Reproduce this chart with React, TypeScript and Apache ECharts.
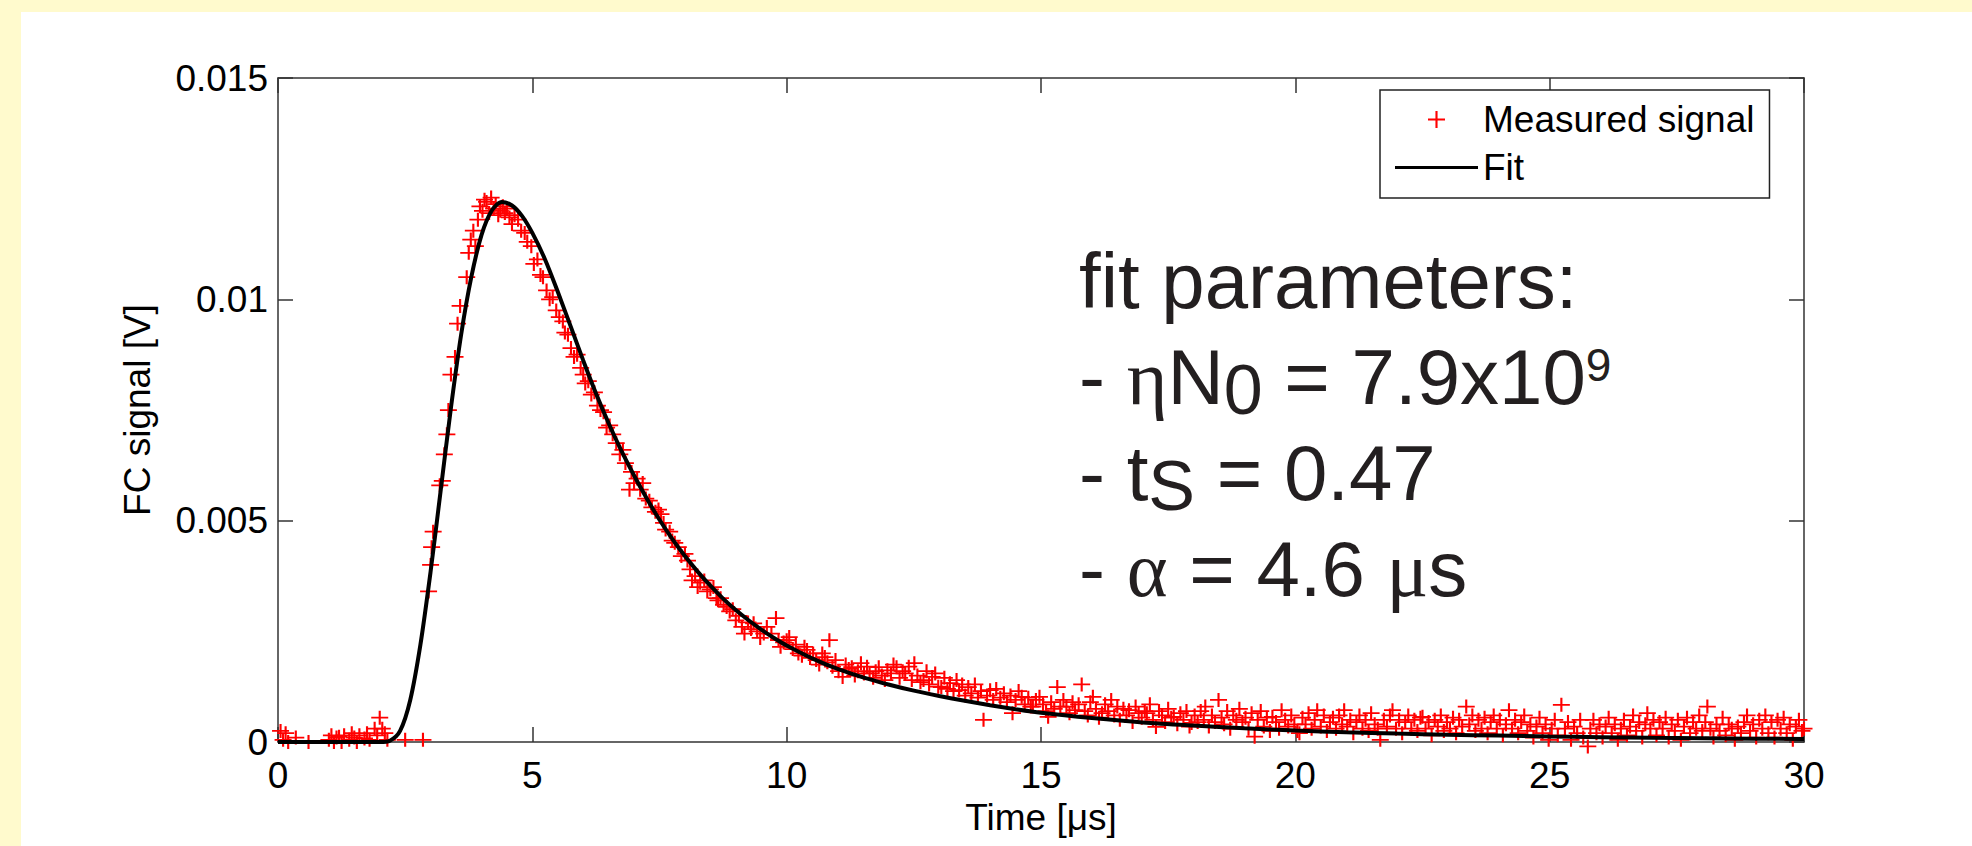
import React, { useEffect, useRef } from "react";
import * as echarts from "echarts";

const FONT = '"Liberation Sans", Arial, Helvetica, sans-serif';
const SERIF = '"Liberation Serif", "DejaVu Serif", serif';

const X_TICKS = [0, 5, 10, 15, 20, 25, 30];
const Y_TICKS = [0, 0.005, 0.01, 0.015];
const X_NAME = "Time [μs]";
const Y_NAME = "FC signal [V]";
const SERIES_NAMES = ["Measured signal", "Fit"];
const MV = 0.001;

const NOTE_TEXT =
  "fit parameters:\n- {g|η}N{sub|0} = 7.9x10{sup|9}\n- t{sub|S} = 0.47\n- {g|α} = 4.6 {g|μ}s";

// Fit curve (time in μs, signal in mV)
const fitTime = [0, 1, 2.0, 2.2, 2.4, 2.6, 2.8, 3.0, 3.2, 3.4, 3.6, 3.8, 4.0, 4.2, 4.4, 4.6, 4.8, 5.0, 5.25, 5.5, 5.75, 6.0, 6.25, 6.5, 6.75, 7.0, 7.25, 7.5, 7.75, 8.0, 8.25, 8.5, 8.75, 9.0, 9.25, 9.5, 9.75, 10.0, 10.5, 11.0, 11.5, 12.0, 12.5, 13.0, 13.5, 14.0, 14.5, 15.0, 16, 17, 18, 19, 20, 21, 22, 23, 24, 25, 26, 27, 28, 29, 30];
const fitMilliVolts = [0, 0, 0, 0.03, 0.25, 0.95, 2.2, 3.85, 5.7, 7.55, 9.2, 10.5, 11.45, 12.0, 12.2, 12.12, 11.88, 11.5, 10.9, 10.17, 9.4, 8.62, 7.88, 7.2, 6.58, 6.02, 5.5, 5.02, 4.59, 4.2, 3.85, 3.53, 3.24, 2.98, 2.75, 2.54, 2.35, 2.18, 1.89, 1.65, 1.46, 1.3, 1.16, 1.04, 0.93, 0.83, 0.74, 0.66, 0.54, 0.44, 0.37, 0.31, 0.26, 0.22, 0.19, 0.165, 0.145, 0.125, 0.11, 0.095, 0.085, 0.075, 0.07];

// Measured signal points [time μs, signal mV]
const measured = [
  [0.05,0.25],[0.1,0.05],[0.15,0.2],[0.2,0.0],[0.35,0.1],[0.6,0.0],[1.0,0.05],[1.05,0.15],[1.1,0.0],[1.15,0.1],[1.2,0.12],[1.25,0.0],[1.3,0.15],[1.4,0.05],[1.45,0.2],[1.5,0.1],[1.55,0.0],[1.6,0.15],[1.7,0.08],[1.75,0.2],[1.8,0.05],[1.9,0.3],[1.95,0.15],[2.0,0.55],[2.05,0.3],[2.1,0.2],[2.15,0.05],[2.5,0.05],[2.85,0.05],
  [2.96,3.4],[3.0,4.0],[3.02,4.4],[3.05,4.75],[3.18,5.8],[3.23,5.9],[3.27,6.5],[3.32,6.95],[3.35,7.5],[3.4,8.3],[3.48,8.7],[3.53,9.45],[3.58,9.85],[3.71,10.5],[3.75,11.05],[3.79,11.35],[3.84,11.55],[3.88,11.2],[3.93,11.8],[3.97,12.1],[4.02,12.0],[4.06,12.25],[4.1,12.2],[4.15,11.95],[4.19,12.3],[4.24,12.05],[4.28,12.15],[4.33,11.9],[4.37,12.0],[4.42,12.1],[4.46,11.95],[4.5,12.05],[4.55,11.85],[4.6,11.7],[4.65,11.9],[4.72,11.8],[4.78,11.55],[4.85,11.5],[4.9,11.3],[4.98,11.2],
  [5.03,10.8],[5.1,10.9],[5.16,10.55],[5.21,10.5],[5.28,10.2],[5.34,10.0],[5.4,10.05],[5.47,9.75],[5.53,9.6],[5.6,9.5],[5.64,9.25],[5.7,9.2],[5.76,8.9],[5.82,8.7],[5.88,8.75],[5.95,8.45],[6.0,8.3],[6.04,8.1],[6.1,8.15],[6.16,7.85],[6.22,7.9],[6.28,7.6],[6.34,7.5],[6.4,7.45],[6.46,7.1],[6.52,7.15],[6.58,6.95],[6.65,6.75],[6.72,6.5],[6.78,6.6],[6.83,6.3],[6.91,5.7],[6.95,6.1],
  [7.0,5.85],[7.06,5.95],[7.12,5.7],[7.17,5.85],[7.23,5.5],[7.3,5.45],[7.35,5.3],[7.42,5.2],[7.48,5.25],[7.53,5.15],[7.58,4.95],[7.62,4.8],[7.7,4.75],[7.75,4.55],[7.8,4.5],[7.87,4.4],[7.93,4.2],[8.0,4.25],[8.05,4.1],[8.1,3.9],[8.14,3.65],[8.2,3.75],[8.25,3.5],[8.3,3.6],[8.38,3.65],[8.44,3.4],[8.5,3.45],[8.56,3.5],[8.62,3.25],[8.65,3.2],[8.7,3.25],[8.76,3.1],[8.82,3.05],[8.88,2.95],[8.94,3.0],
  [9.0,2.75],[9.06,2.85],[9.12,2.6],[9.17,2.45],[9.24,2.7],[9.3,2.55],[9.35,2.68],[9.42,2.5],[9.48,2.35],[9.55,2.45],[9.61,2.6],[9.7,2.45],[9.79,2.8],[9.84,2.3],[9.88,2.15],[9.94,2.25],[10.0,2.3],[10.05,2.37],[10.12,2.1],[10.18,2.2],[10.23,2.0],[10.3,1.95],[10.35,2.15],[10.4,2.08],[10.46,1.9],[10.52,2.0],[10.58,1.85],[10.64,1.75],[10.7,2.0],[10.75,1.92],[10.8,1.8],[10.84,2.3],[10.9,1.7],[10.96,1.85],
  [11.02,1.6],[11.1,1.47],[11.16,1.75],[11.22,1.65],[11.28,1.69],[11.34,1.5],[11.4,1.6],[11.46,1.78],[11.52,1.55],[11.58,1.7],[11.63,1.55],[11.7,1.45],[11.75,1.6],[11.81,1.69],[11.87,1.5],[11.93,1.4],[11.98,1.62],[12.05,1.55],[12.1,1.75],[12.16,1.69],[12.22,1.45],[12.28,1.6],[12.33,1.55],[12.4,1.7],[12.46,1.4],[12.51,1.78],[12.57,1.5],[12.63,1.35],[12.69,1.4],[12.75,1.6],[12.8,1.3],[12.86,1.47],[12.92,1.55],[12.98,1.25],
  [13.04,1.24],[13.1,1.45],[13.16,1.2],[13.21,1.33],[13.28,1.15],[13.34,1.4],[13.39,1.17],[13.45,1.3],[13.51,1.05],[13.57,1.24],[13.63,1.1],[13.7,1.3],[13.76,1.0],[13.82,1.15],[13.87,0.5],[13.94,1.05],[14.0,1.17],[14.06,0.95],[14.12,1.2],[14.2,1.0],[14.27,1.1],[14.33,0.9],[14.4,1.05],[14.44,0.65],[14.5,0.95],[14.56,1.15],[14.62,1.02],[14.68,0.85],[14.75,1.0],[14.8,0.8],[14.84,0.8],[14.9,0.95],[14.97,1.02],
  [15.04,0.85],[15.1,0.7],[15.14,0.57],[15.2,0.9],[15.26,0.75],[15.32,1.24],[15.38,0.8],[15.44,0.95],[15.5,0.8],[15.56,0.65],[15.62,0.9],[15.67,0.72],[15.74,0.85],[15.8,1.3],[15.86,0.7],[15.92,0.6],[15.97,0.9],[16.02,1.02],[16.08,0.75],[16.14,0.55],[16.2,0.65],[16.26,0.85],[16.32,0.7],[16.38,0.95],[16.44,0.6],[16.5,0.8],[16.55,0.5],[16.62,0.75],[16.68,0.6],[16.73,0.72],[16.8,0.45],[16.86,0.8],[16.92,0.65],[16.98,0.55],
  [17.04,0.7],[17.08,0.65],[17.14,0.85],[17.2,0.5],[17.26,0.34],[17.32,0.7],[17.38,0.6],[17.44,0.45],[17.5,0.75],[17.56,0.55],[17.61,0.57],[17.68,0.4],[17.74,0.65],[17.8,0.5],[17.86,0.7],[17.92,0.35],[17.96,0.43],[18.02,0.6],[18.08,0.45],[18.14,0.7],[18.2,0.5],[18.23,0.8],[18.3,0.35],[18.36,0.6],[18.42,0.45],[18.49,0.95],[18.55,0.55],[18.6,0.4],[18.66,0.7],[18.72,0.3],[18.78,0.6],[18.84,0.5],[18.9,0.75],[18.96,0.45],
  [19.02,0.55],[19.08,0.3],[19.14,0.65],[19.2,0.12],[19.26,0.5],[19.32,0.7],[19.38,0.35],[19.44,0.55],[19.5,0.25],[19.55,0.57],[19.62,0.45],[19.68,0.3],[19.73,0.72],[19.8,0.5],[19.86,0.35],[19.92,0.6],[19.98,0.4],[20.04,0.25],[20.08,0.2],[20.14,0.55],[20.2,0.4],[20.26,0.65],[20.32,0.3],[20.38,0.5],[20.43,0.72],[20.5,0.35],[20.56,0.6],[20.62,0.25],[20.68,0.45],[20.74,0.55],[20.8,0.3],[20.86,0.6],[20.92,0.4],[20.96,0.72],
  [21.02,0.35],[21.08,0.5],[21.14,0.2],[21.2,0.45],[21.26,0.6],[21.32,0.3],[21.38,0.5],[21.44,0.25],[21.49,0.65],[21.56,0.4],[21.62,0.3],[21.67,0.05],[21.74,0.5],[21.8,0.35],[21.86,0.6],[21.91,0.72],[21.98,0.3],[22.04,0.5],[22.1,0.2],[22.16,0.45],[22.22,0.6],[22.28,0.3],[22.34,0.5],[22.4,0.25],[22.46,0.55],[22.5,0.57],[22.56,0.3],[22.62,0.45],[22.68,0.15],[22.74,0.5],[22.8,0.35],[22.86,0.6],[22.92,0.25],[22.98,0.45],
  [23.04,0.3],[23.1,0.55],[23.16,0.2],[23.22,0.5],[23.28,0.35],[23.36,0.8],[23.42,0.4],[23.48,0.6],[23.54,0.25],[23.6,0.5],[23.66,0.3],[23.72,0.55],[23.78,0.2],[23.84,0.45],[23.9,0.6],[23.96,0.3],[24.02,0.5],[24.08,0.15],[24.14,0.4],[24.2,0.72],[24.26,0.3],[24.32,0.5],[24.38,0.2],[24.44,0.45],[24.5,0.6],[24.56,0.25],[24.62,0.4],[24.68,0.1],[24.74,0.35],[24.8,0.55],[24.86,0.2],[24.92,0.4],[24.98,0.05],
  [25.04,0.3],[25.1,0.5],[25.16,0.15],[25.23,0.84],[25.3,0.3],[25.36,0.45],[25.42,0.05],[25.48,0.35],[25.54,0.2],[25.6,0.5],[25.66,0.1],[25.75,-0.1],[25.8,0.3],[25.86,0.5],[25.92,0.2],[25.98,0.4],[26.04,0.1],[26.1,0.35],[26.16,0.55],[26.22,0.2],[26.28,0.4],[26.34,0.05],[26.4,0.3],[26.46,0.5],[26.52,0.15],[26.58,0.35],[26.64,0.6],[26.7,0.25],[26.76,0.45],[26.82,0.1],[26.88,0.4],[26.92,0.65],[26.98,0.3],
  [27.04,0.5],[27.1,0.15],[27.16,0.45],[27.22,0.3],[27.28,0.55],[27.34,0.1],[27.4,0.4],[27.46,0.25],[27.52,0.5],[27.58,0.05],[27.64,0.35],[27.7,0.55],[27.76,0.2],[27.82,0.45],[27.88,0.3],[27.94,0.6],[28.0,0.25],[28.06,0.45],[28.1,0.8],[28.16,0.3],[28.22,0.1],[28.28,0.4],[28.34,0.25],[28.4,0.55],[28.46,0.15],[28.52,0.4],[28.58,0.3],[28.64,0.05],[28.7,0.35],[28.76,0.2],[28.82,0.45],[28.88,0.6],[28.94,0.25],
  [29.0,0.4],[29.06,0.1],[29.12,0.5],[29.18,0.3],[29.24,0.6],[29.3,0.2],[29.36,0.45],[29.42,0.1],[29.48,0.5],[29.54,0.3],[29.6,0.55],[29.66,0.2],[29.72,0.4],[29.78,0.05],[29.84,0.35],[29.9,0.5],[29.96,0.25],[30.0,0.3]
];

const PLUS = "path://M7,0H9V7H16V9H9V16H7V9H0V7H7Z";
const LINE_ICON = "path://M0,0H83V3H0Z";
const AXIS_COLOR = "#333";
const NOTE_COLOR = "#231f20";

function buildOption() {
  const xMin = X_TICKS[0];
  const xMax = X_TICKS[X_TICKS.length - 1];
  const xInt = X_TICKS[1] - X_TICKS[0];
  const yMin = Y_TICKS[0];
  const yMax = Y_TICKS[Y_TICKS.length - 1];
  const yInt = Y_TICKS[1] - Y_TICKS[0];

  const axisLine = { show: true, onZero: false, lineStyle: { color: AXIS_COLOR, width: 1.5 } };
  const axisTick = { show: true, inside: true, length: 15, lineStyle: { color: AXIS_COLOR, width: 1.5 } };
  const labelStyle = { fontSize: 37, fontFamily: FONT, color: "#000" };

  const measuredData = measured.map((p) => [p[0], p[1] * MV]);
  const fitData = fitTime.map((t, i) => [t, fitMilliVolts[i] * MV]);

  return {
    animation: false,
    backgroundColor: "#ffffff",
    grid: { left: 257, top: 66, right: 168, bottom: 104, containLabel: false, outerBoundsMode: "none" },
    xAxis: [
      {
        type: "value", position: "bottom", min: xMin, max: xMax, interval: xInt,
        axisLine, axisTick, splitLine: { show: false },
        axisLabel: { show: true, margin: 15, ...labelStyle },
        name: X_NAME, nameLocation: "middle", nameGap: 56, nameTextStyle: labelStyle,
      },
      {
        type: "value", position: "top", min: xMin, max: xMax, interval: xInt,
        axisLine, axisTick, splitLine: { show: false }, axisLabel: { show: false },
      },
    ],
    yAxis: [
      {
        type: "value", position: "left", min: yMin, max: yMax, interval: yInt,
        axisLine, axisTick, splitLine: { show: false },
        axisLabel: { show: true, margin: 10, ...labelStyle },
        name: Y_NAME, nameLocation: "middle", nameGap: 122, nameTextStyle: labelStyle,
      },
      {
        type: "value", position: "right", min: yMin, max: yMax, interval: yInt,
        axisLine, axisTick, splitLine: { show: false }, axisLabel: { show: false },
      },
    ],
    legend: {
      show: true,
      orient: "vertical",
      left: 1359,
      top: 78,
      padding: [11, 15, 12, 15],
      itemGap: 11,
      itemWidth: 83,
      itemHeight: 17,
      borderColor: "#222",
      borderWidth: 1.5,
      backgroundColor: "#ffffff",
      selectedMode: false,
      textStyle: { fontSize: 37, fontFamily: FONT, color: "#000" },
      data: [
        { name: SERIES_NAMES[0], icon: PLUS },
        { name: SERIES_NAMES[1], icon: LINE_ICON },
      ],
    },
    series: [
      {
        name: SERIES_NAMES[0],
        type: "scatter",
        xAxisIndex: 0,
        yAxisIndex: 0,
        symbol: PLUS,
        symbolSize: [17, 14],
        clip: false,
        itemStyle: { color: "#ff0000", opacity: 1 },
        data: measuredData,
        z: 2,
      },
      {
        name: SERIES_NAMES[1],
        type: "line",
        xAxisIndex: 0,
        yAxisIndex: 0,
        symbol: "none",
        showSymbol: false,
        smooth: 0.3,
        lineStyle: { color: "#000", width: 4 },
        itemStyle: { color: "#000" },
        data: fitData,
        z: 3,
      },
    ],
    graphic: [
      {
        type: "text",
        x: 1058,
        y: 221,
        z: 100,
        style: {
          text: NOTE_TEXT,
          fontSize: 78,
          fontFamily: FONT,
          fill: NOTE_COLOR,
          lineHeight: 96,
          align: "left",
          verticalAlign: "top",
          rich: {
            g: { fontSize: 78, fontFamily: SERIF, fill: NOTE_COLOR },
            sub: { fontSize: 70, fontFamily: FONT, fill: NOTE_COLOR, padding: [26, 0, 0, 0] },
            sup: { fontSize: 46, fontFamily: FONT, fill: NOTE_COLOR, padding: [0, 0, 24, 0] },
          },
        },
      },
    ],
  };
}

export default function App() {
  const ref = useRef<HTMLDivElement>(null);
  useEffect(() => {
    if (!ref.current) return;
    const chart = echarts.init(ref.current, null, { renderer: "svg" });
    chart.setOption(buildOption() as any);
    return () => {
      chart.dispose();
    };
  }, []);
  return (
    <div
      style={{
        position: "fixed",
        left: 0,
        top: 0,
        width: 1972,
        height: 846,
        background: "#FFFACD",
        overflow: "hidden",
      }}
    >
      <div
        ref={ref}
        style={{ position: "absolute", left: 21, top: 12, width: 1951, height: 834, background: "#ffffff" }}
      />
    </div>
  );
}
